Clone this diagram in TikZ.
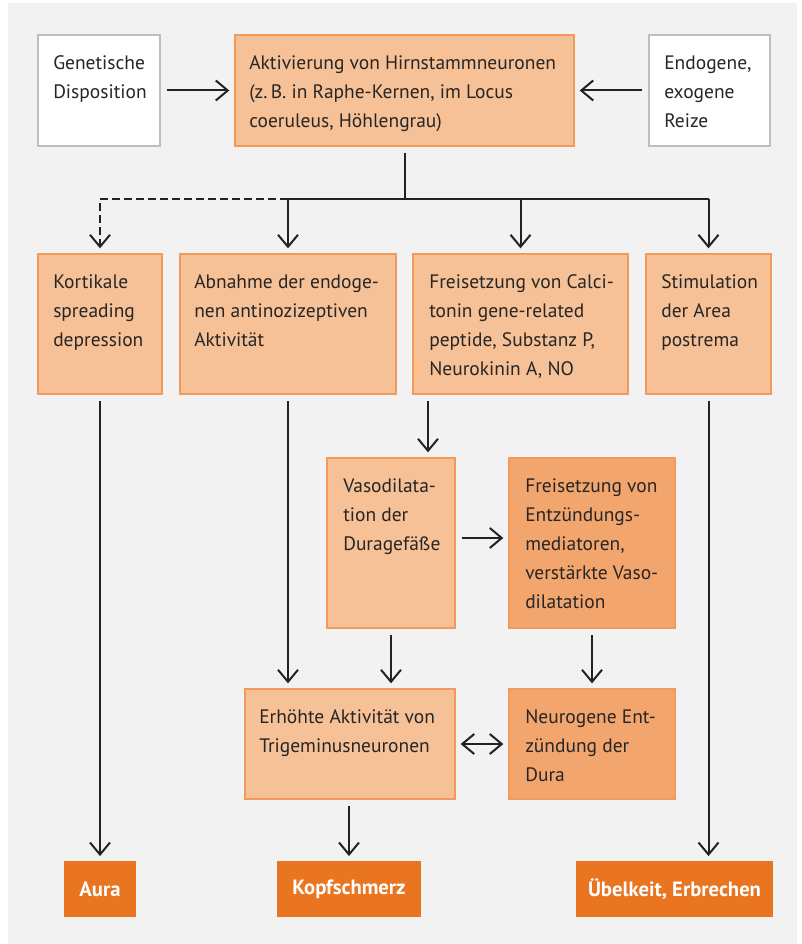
\documentclass[tikz,border=0pt]{standalone}
\usepackage{fontspec}
\setmainfont{PT Sans}
\usetikzlibrary{arrows.meta}
\definecolor{bgc}{HTML}{F2F2F2}
\definecolor{lightfill}{HTML}{F6C196}
\definecolor{darkfill}{HTML}{F2A66E}
\definecolor{orborder}{HTML}{F29A5C}
\definecolor{grayborder}{HTML}{BEBEBE}
\definecolor{endfill}{HTML}{EA7520}
\definecolor{linec}{HTML}{222222}
\definecolor{txtc}{HTML}{262626}
\newcommand\flowbox[8]{%
  \node[#6, minimum width={(#4-#2-2)*0.75pt}, minimum height={(#5-#3-2)*0.75pt}] (#1) at ({(#2+#4)/2},{(#3+#5)/2}) {};
  \node[txt, anchor=north west] (#1t) at (#2+#7,#3+15) {\strut #8};
}
\begin{document}
\begin{tikzpicture}[x=0.75pt,y=-0.75pt,
  base/.style={rectangle, inner sep=0pt, line width=1.5pt},
  whitebox/.style={base, draw=grayborder, fill=white},
  lightbox/.style={base, draw=orborder, fill=lightfill},
  darkbox/.style={base, draw=orborder, fill=darkfill},
  endbox/.style={rectangle, inner sep=0pt, fill=endfill, text=white,
    font=\fontsize{15.5}{18}\selectfont\bfseries},
  txt/.style={inner sep=0pt, align=left, text=txtc, font=\fontsize{14.6}{21.75}\selectfont},
  line/.style={draw=linec, line width=1.5pt},
  conn/.style={line, shorten <=4.5pt, shorten >=3.5pt, -{Straight Barb[length=9pt,width=15pt]}},
  biconn/.style={line, shorten <=3.5pt, shorten >=3.5pt, {Straight Barb[length=9pt,width=15pt]}-{Straight Barb[length=9pt,width=15pt]}},
  dline/.style={line, dash pattern=on 6pt off 3pt}
]
\useasboundingbox (0,0) rectangle (801,944);
\fill[bgc] (8,3) rectangle (797,944);

\flowbox{gen}{37}{34}{161}{147}{whitebox}{16}{Genetische\\Disposition}
\flowbox{akt}{234}{34}{575}{147}{lightbox}{15}{Aktivierung von Hirnstammneuronen\\(z.\,B. in Raphe-Kernen, im Locus\\coeruleus, Höhlengrau)}
\flowbox{endo}{648}{34}{771}{147}{whitebox}{16}{Endogene,\\exogene\\Reize}

\flowbox{kor}{37}{253}{163}{395}{lightbox}{16}{Kortikale\\spreading\\depression}
\flowbox{abn}{179}{253}{397}{395}{lightbox}{15}{Abnahme der endoge-\\nen antinozizeptiven\\Aktivität}
\flowbox{fre}{412}{253}{629}{395}{lightbox}{17}{Freisetzung von Calci-\\tonin gene-related\\peptide, Substanz P,\\Neurokinin A, NO}
\flowbox{sti}{645}{253}{772}{395}{lightbox}{16}{Stimulation\\der Area\\postrema}

\flowbox{vaso}{326}{457}{456}{629}{lightbox}{17}{Vasodilata-\\tion der\\Duragefäße}
\flowbox{fe}{508}{457}{676}{629}{darkbox}{17}{Freisetzung von\\Entzündungs-\\mediatoren,\\verstärkte Vaso-\\dilatation}

\flowbox{erh}{244}{688}{456}{800}{lightbox}{15}{Erhöhte Aktivität von\\Trigeminusneuronen}
\flowbox{neu}{508}{688}{676}{800}{darkbox}{17}{Neurogene Ent-\\zündung der\\Dura}

\node[endbox, minimum width=54pt, minimum height=42pt] (aura) at (100,889) {Aura};
\node[endbox, minimum width=108pt, minimum height=42pt] (kopf) at (349,889) {Kopfschmerz};
\node[endbox, minimum width=147.75pt, minimum height=42pt] (ueb) at (674.5,889) {Übelkeit, Erbrechen};

% connectors
\draw[conn] (gen.east) -- (akt.west);
\draw[conn] (endo.west) -- (akt.west -| akt.east);
\coordinate (hub) at (akt.south |- 0,199);
\draw[line, shorten <=4.5pt] (akt.south) -- (hub);
\draw[line] (abn.north |- hub) -- (sti.north |- hub);
\draw[dline, -{Straight Barb[length=9pt,width=15pt]}, shorten >=3.5pt] (abn.north |- hub) -- (kor.north |- hub) -- (kor.north);
\draw[conn, shorten <=0pt] (abn.north |- hub) -- (abn.north);
\draw[conn, shorten <=0pt] (fre.north |- hub) -- (fre.north);
\draw[conn, shorten <=0pt] (sti.north |- hub) -- (sti.north);

\draw[conn] (kor.south) -- (aura.north);
\draw[conn] (abn.south) -- (abn.south |- erh.north);
\draw[conn] (fre.south -| 428,0) -- (vaso.north -| 428,0);
\draw[conn] (vaso.east |- 0,538) -- (fe.west |- 0,538);
\draw[conn] (vaso.south) -- (vaso.south |- erh.north);
\draw[conn] (fe.south) -- (neu.north);
\draw[biconn] (erh.east) -- (neu.west);
\draw[conn] (erh.south -| kopf.north) -- (kopf.north);
\draw[conn] (sti.south) -- (sti.south |- ueb.north);
\end{tikzpicture}
\end{document}
